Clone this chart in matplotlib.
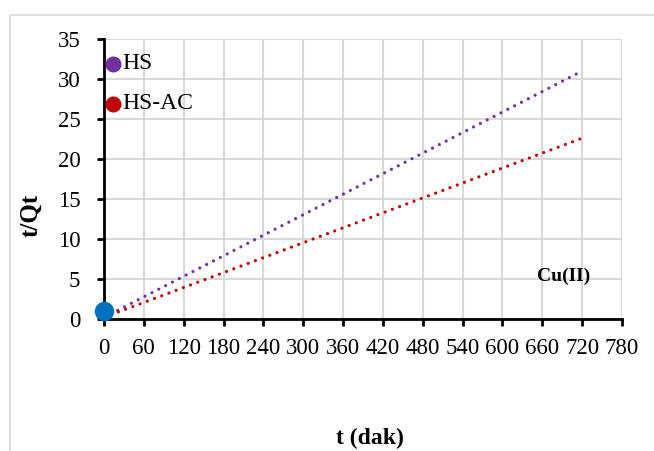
import matplotlib.pyplot as plt
from matplotlib.patches import Rectangle

# trend line end points
t_fit = [0, 720]
hs_fit = [0.2, 31.0]
hsac_fit = [0.2, 22.6]

# measured point visible at origin
t_pts = [0]
q_pts = [1.0]

# legend-like markers drawn in the plot
legend_names = ["HS", "HS-AC"]
legend_x = [13, 13]
legend_y = [31.9, 26.9]
legend_colors = ["#7030A0", "#C00000"]

xticks = list(range(0, 781, 60))
yticks = list(range(0, 36, 5))

plt.rcParams["font.family"] = ["Liberation Serif", "DejaVu Serif"]

fig = plt.figure(figsize=(6.54, 4.51), dpi=100)
ax = fig.add_axes([0.159, 0.2927, 0.792, 0.6208])

# light frame of the chart area (cut at right/bottom)
fig.patches.append(Rectangle((0.0153, -0.1), 1.2, 1.067, transform=fig.transFigure,
                             fill=False, edgecolor="#d9d9d9", lw=1.2))

dots = (0, (0.01, 2.4))
ax.plot(t_fit, hs_fit, color="#7030A0", lw=2.3, linestyle=dots, dash_capstyle="round")
ax.plot(t_fit, hsac_fit, color="#C00000", lw=2.3, linestyle=dots, dash_capstyle="round")
ax.plot(t_pts, q_pts, "o", color="#0070C0", ms=13, clip_on=False, zorder=5)

for name, x, y, c in zip(legend_names, legend_x, legend_y, legend_colors):
    ax.plot(x, y, "o", color=c, ms=10.5, zorder=5)
    ax.text(x + 14, y, name, fontsize=17, va="center", ha="left")

ax.text(692, 5.3, "Cu(II)", fontsize=14, fontweight="bold", ha="center", va="center")

ax.set_xlim(0, 780)
ax.set_ylim(0, 35)
ax.set_xticks(xticks)
ax.set_yticks(yticks)
ax.tick_params(labelsize=16.5, width=2, length=5, direction="out")
ax.tick_params(axis="x", pad=9)
ax.tick_params(axis="y", pad=12)
ax.grid(True, color="#d9d9d9", lw=1.5)
ax.set_axisbelow(True)
for s in ["top", "right"]:
    ax.spines[s].set_visible(False)
for s in ["left", "bottom"]:
    ax.spines[s].set_linewidth(2)

ax.set_xlabel("t (dak)", fontsize=17, fontweight="bold")
ax.xaxis.set_label_coords(0.513, -0.39)
ax.set_ylabel("t/Qt", fontsize=18, fontweight="bold")
ax.yaxis.set_label_coords(-0.118, 0.371)

fig.savefig("out.png", dpi=100)
